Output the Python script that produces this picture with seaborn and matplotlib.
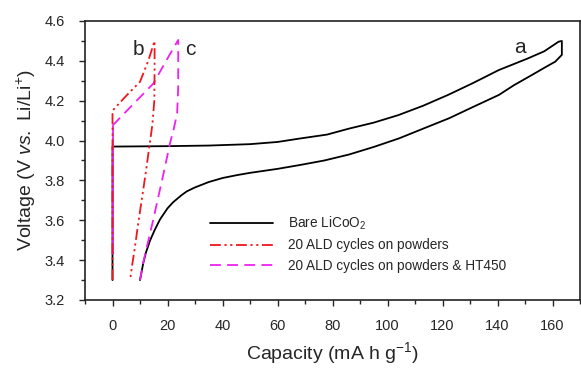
import matplotlib
matplotlib.use("Agg")
import matplotlib.pyplot as plt
import seaborn as sns
import pandas as pd
from matplotlib.ticker import MultipleLocator

sns.set_style("ticks")
plt.rcParams['font.family'] = ['Liberation Sans', 'DejaVu Sans']
plt.rcParams['mathtext.fontset'] = 'custom'
plt.rcParams['mathtext.rm'] = 'Liberation Sans'
plt.rcParams['mathtext.it'] = 'Liberation Sans:italic'

# Bare LiCoO2 (a): charge then discharge
bare_cap = [0, 0, 1, 20, 35, 50, 60, 68, 78, 86, 95, 104, 113, 122, 131, 140.5, 151, 157, 162.2, 163.4,
            163.4, 161, 157, 152.5, 146, 140.5, 131, 122.4, 113, 104.2, 95, 86, 77, 68, 60, 50, 45, 40,
            35, 30, 27, 25, 22, 20, 17.3, 15.3, 13.7, 12.2, 11.2, 10.0]
bare_v = [3.30, 3.97, 3.970, 3.972, 3.975, 3.982, 3.993, 4.010, 4.030, 4.060, 4.090, 4.128, 4.175, 4.229,
          4.288, 4.354, 4.412, 4.448, 4.496, 4.50,
          4.43, 4.396, 4.365, 4.329, 4.278, 4.229, 4.168, 4.112, 4.060, 4.011, 3.968, 3.930, 3.900,
          3.877, 3.858, 3.838, 3.826, 3.812, 3.792, 3.765, 3.745, 3.725, 3.690, 3.660, 3.605, 3.550,
          3.500, 3.440, 3.386, 3.30]

# 20 ALD cycles on powders (b)
ald_cap = [0, 0, 5, 10, 13, 15.3, 15.3, 15.2, 14.5, 13.4, 12.0, 10.6, 9.2, 8.0, 7.2, 6.4]
ald_v = [3.30, 4.15, 4.225, 4.295, 4.40, 4.50, 4.35, 4.20, 4.08, 3.97, 3.83, 3.70, 3.57, 3.45, 3.38, 3.30]

# 20 ALD cycles on powders & HT450 (c)
ht_cap = [0, 0, 7, 14.9, 19.5, 23.9, 23.9, 23.5, 22.3, 20.9, 18.8, 16.7, 14.6, 12.5, 11.2, 10.0]
ht_v = [3.43, 4.075, 4.175, 4.287, 4.40, 4.505, 4.27, 4.137, 4.06, 3.986, 3.85, 3.72, 3.59, 3.467, 3.39, 3.30]

labels = ["Bare LiCoO$_2$", "20 ALD cycles on powders", "20 ALD cycles on powders & HT450"]
x_ticks = [0, 20, 40, 60, 80, 100, 120, 140, 160]
y_ticks = [3.2, 3.4, 3.6, 3.8, 4.0, 4.2, 4.4, 4.6]

fig = plt.figure(figsize=(5.81, 3.68), dpi=100)
ax = fig.add_axes([85 / 581, 1 - 300 / 368, (580 - 85) / 581, (300 - 21) / 368])

red = '#f2151b'
mag = '#ee22ee'

df_a = pd.DataFrame({"cap": bare_cap, "v": bare_v})
df_b = pd.DataFrame({"cap": ald_cap, "v": ald_v})
df_c = pd.DataFrame({"cap": ht_cap, "v": ht_v})

sns.lineplot(data=df_a, x="cap", y="v", sort=False, estimator=None, color='black', lw=1.3,
             ax=ax, label=labels[0])
sns.lineplot(data=df_b, x="cap", y="v", sort=False, estimator=None, color=red, lw=1.3,
             ax=ax, label=labels[1])
ax.lines[-1].set_dashes([6, 2, 1.2, 2, 1.2, 2])
ax.lines[-1].set_zorder(3)
# vertical start of series c appears solid
sns.lineplot(data=df_c.iloc[:2], x="cap", y="v", sort=False, estimator=None, color=mag, lw=1.3,
             ax=ax, legend=False)
sns.lineplot(data=df_c.iloc[1:], x="cap", y="v", sort=False, estimator=None, color=mag, lw=1.3,
             ax=ax, label=labels[2])
ax.lines[-1].set_dashes([6, 3.5])

ax.set_xlim(-10, 170)
ax.set_ylim(3.2, 4.6)
ax.set_xticks(x_ticks)
ax.set_yticks(y_ticks)
ax.xaxis.set_minor_locator(MultipleLocator(10))
ax.yaxis.set_minor_locator(MultipleLocator(0.1))
ax.tick_params(axis='both', which='major', direction='out', length=4.5, width=1, labelsize=10.5,
               top=False, right=False)
ax.tick_params(axis='x', which='major', pad=9)
ax.tick_params(axis='y', which='major', pad=10)
ax.tick_params(axis='both', which='minor', direction='out', length=2.8, width=1, top=False, right=False)
ax.set_yticklabels([f"{v:.1f}" for v in y_ticks])
for s in ax.spines.values():
    s.set_linewidth(1.2)
    s.set_color('#222222')

ax.set_xlabel("Capacity (mA h g$^{-1}$)", fontsize=14, labelpad=5)
ax.set_ylabel("Voltage (V $\\it{vs.}$ Li/Li$^{+}$)", fontsize=14, labelpad=5)

ax.text(9.3, 4.43, "b", fontsize=15, ha='center', va='baseline')
ax.text(28.3, 4.43, "c", fontsize=15, ha='center', va='baseline')
ax.text(148.3, 4.44, "a", fontsize=15, ha='center', va='baseline')

leg = ax.legend(loc='upper left', bbox_to_anchor=(0.2525, 0.305), frameon=False, fontsize=9.8,
                handlelength=4.6, handletextpad=1.15, labelspacing=0.45, borderpad=0.0,
                borderaxespad=0.0)

fig.savefig("out.png", dpi=100)
